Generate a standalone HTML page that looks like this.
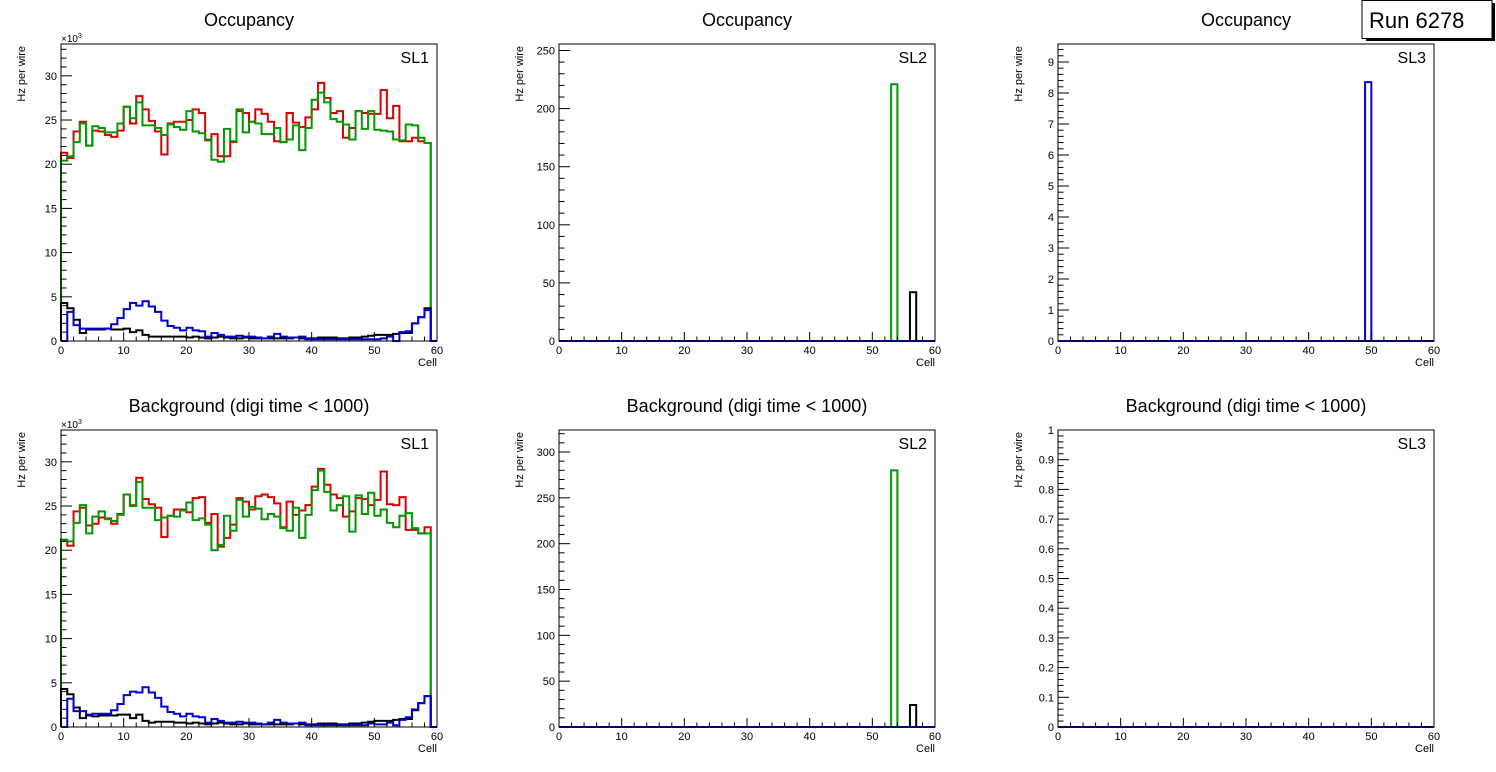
<!DOCTYPE html>
<html><head><meta charset="utf-8"><style>
body{margin:0;background:#fff;}
svg{display:block;font-family:"Liberation Sans",sans-serif;}
</style></head><body>
<svg id="c" width="1496" height="772"></svg>
<script>
const cells = 60;
const occSL1Red = [21.3,20.7,23.7,24.8,22.1,23.8,23.7,23.3,23.1,23.8,26.5,24.6,27.7,26.2,24.9,23.7,21.1,24.6,24.8,24.8,25.0,26.2,25.8,22.7,23.4,20.9,20.9,22.5,26.0,25.8,24.8,26.2,25.7,24.8,22.6,22.5,25.8,24.7,24.2,25.3,26.2,29.2,27.5,25.8,26.0,23.0,24.1,26.0,25.8,25.7,25.7,28.4,25.2,26.6,22.6,22.6,23.0,22.6,22.4,0];
const occSL1Green = [20.4,20.9,22.5,24.6,22.1,24.3,24.1,23.6,23.6,24.6,26.5,25.2,27.0,24.4,24.4,24.1,23.3,24.5,24.2,23.9,26.0,23.7,23.5,22.8,20.5,20.3,24.0,22.6,26.2,23.6,24.8,24.6,23.4,23.4,24.1,22.5,22.8,24.4,21.6,24.1,27.3,28.1,27.0,25.1,24.8,24.5,22.8,26.0,24.0,26.0,23.9,23.8,23.7,22.8,22.7,24.5,24.4,23.0,22.4,0];
const occSL1Blue = [0,3.3,1.8,1.4,1.4,1.4,1.4,1.4,1.9,2.6,3.6,4.3,4.0,4.5,3.9,3.3,2.3,1.7,1.5,1.2,1.5,1.2,1.1,0.5,0.9,0.7,0.5,0.5,0.6,0.5,0.5,0.4,0.3,0.5,0.8,0.5,0.4,0.4,0.5,0.2,0.2,0.2,0.2,0.2,0.2,0.2,0.2,0.2,0.2,0.2,0.2,0.3,0.5,0,1.0,1.1,2.0,2.7,3.5,0];
const occSL1Black = [4.3,3.7,2.4,0.9,1.3,1.3,1.3,1.4,1.3,1.3,1.4,1.0,1.2,0.7,0.5,0.5,0.5,0.5,0.5,0.5,0.4,0.5,0.4,0.3,0.4,0.5,0.4,0.3,0.3,0.4,0.3,0.3,0.3,0.3,0.3,0.3,0.3,0.4,0.3,0.3,0.3,0.4,0.4,0.4,0.3,0.3,0.4,0.4,0.5,0.6,0.7,0.7,0.7,0.8,0.9,0.9,2.0,2.7,3.7,0];
const bkgSL1Red = [21.1,20.5,24.4,24.8,22.8,23.0,23.7,23.6,23.0,24.1,26.3,25.1,28.2,25.8,25.2,24.8,21.5,23.9,24.6,24.6,24.3,25.9,26.0,23.1,24.1,20.4,21.4,22.9,25.9,25.5,24.6,26.1,26.3,26.0,25.3,22.6,25.5,24.0,24.5,25.1,27.2,29.2,27.4,26.3,25.9,23.8,24.4,25.9,25.8,25.1,25.7,28.9,25.2,25.1,26.0,22.3,22.3,21.9,22.6,0];
const bkgSL1Green = [21.2,21.0,23.1,25.1,21.9,23.8,24.4,23.5,23.3,24.0,26.3,25.0,27.7,24.8,24.8,23.4,23.7,23.9,23.8,24.5,25.4,23.4,23.6,22.9,20.0,20.6,23.9,22.2,25.7,23.8,24.9,24.7,23.5,24.1,23.8,22.5,22.2,24.8,21.4,24.0,26.8,29.0,26.6,24.5,25.1,26.1,22.1,26.2,24.1,26.5,23.9,24.6,23.1,22.6,23.9,24.2,22.5,21.9,21.9,0];
const bkgSL1Blue = [0,3.2,1.8,1.8,1.4,1.5,1.5,1.5,1.9,2.6,3.6,4.0,3.9,4.5,3.9,3.3,2.3,1.7,1.5,1.2,1.5,1.2,1.1,0.5,0.9,0.7,0.5,0.5,0.6,0.5,0.5,0.4,0.3,0.5,0.8,0.5,0.4,0.4,0.5,0.2,0.2,0.2,0.2,0.2,0.2,0.2,0.2,0.2,0.2,0.4,0.3,0.3,0.5,0.2,0.8,1.1,2.0,2.7,3.5,0];
const bkgSL1Black = [4.3,3.7,2.2,1.0,1.3,1.2,1.3,1.3,1.3,1.4,1.4,1.0,1.4,0.7,0.5,0.6,0.6,0.6,0.5,0.5,0.4,0.5,0.4,0.3,0.4,0.5,0.4,0.3,0.3,0.4,0.3,0.3,0.3,0.3,0.3,0.3,0.3,0.4,0.3,0.3,0.3,0.4,0.4,0.4,0.3,0.3,0.4,0.4,0.5,0.6,0.7,0.7,0.7,0.8,0.9,0.9,1.9,2.7,3.5,0];
const occSL2Green = new Array(60).fill(0); occSL2Green[53] = 221;
const occSL2Black = new Array(60).fill(0); occSL2Black[56] = 42;
const bkgSL2Green = new Array(60).fill(0); bkgSL2Green[53] = 280;
const bkgSL2Black = new Array(60).fill(0); bkgSL2Black[56] = 24;
const occSL3Blue = new Array(60).fill(0); occSL3Blue[49] = 8.35;
const zeros = new Array(60).fill(0);
const xTicks = [0,10,20,30,40,50,60];

const C = {red:'#dd0000', green:'#009900', blue:'#0000dd', black:'#000000'};
const pads = [
 {name:'occ-sl1',title:'Occupancy',sl:'SL1',fx:61,fy:44,ymax:33.6,major:5,minor:1,lab:[0,5,10,15,20,25,30],exp:true,
  series:[['red',occSL1Red],['green',occSL1Green],['black',occSL1Black],['blue',occSL1Blue]]},
 {name:'occ-sl2',title:'Occupancy',sl:'SL2',fx:559,fy:44,ymax:255.6,major:50,minor:10,lab:[0,50,100,150,200,250],
  series:[['red',zeros],['green',occSL2Green],['black',occSL2Black],['blue',zeros]]},
 {name:'occ-sl3',title:'Occupancy',sl:'SL3',fx:1058,fy:44,ymax:9.58,major:1,minor:0.2,lab:[0,1,2,3,4,5,6,7,8,9],
  series:[['red',zeros],['green',zeros],['black',zeros],['blue',occSL3Blue]]},
 {name:'bkg-sl1',title:'Background (digi time < 1000)',sl:'SL1',fx:61,fy:430,ymax:33.6,major:5,minor:1,lab:[0,5,10,15,20,25,30],exp:true,
  series:[['red',bkgSL1Red],['green',bkgSL1Green],['black',bkgSL1Black],['blue',bkgSL1Blue]]},
 {name:'bkg-sl2',title:'Background (digi time < 1000)',sl:'SL2',fx:559,fy:430,ymax:324,major:50,minor:10,lab:[0,50,100,150,200,250,300],
  series:[['red',zeros],['green',bkgSL2Green],['black',bkgSL2Black],['blue',zeros]]},
 {name:'bkg-sl3',title:'Background (digi time < 1000)',sl:'SL3',fx:1058,fy:430,ymax:1.0,major:0.1,minor:0.02,lab:[0,0.1,0.2,0.3,0.4,0.5,0.6,0.7,0.8,0.9,1],
  series:[['red',zeros],['green',zeros],['black',zeros],['blue',zeros]]}
];
const NS='http://www.w3.org/2000/svg';
const svg=document.getElementById('c');
function mk(tag,attrs,parent,text){const e=document.createElementNS(NS,tag);for(const k in attrs)e.setAttribute(k,attrs[k]);if(text!==undefined)e.textContent=text;(parent||svg).appendChild(e);return e;}
const W=376,H=297;
pads.forEach(p=>{
 const g=mk('g',{});
 
 
 const xs=v=>p.fx+v/cells*W;
 const ys=v=>p.fy+H-v/p.ymax*H;
 const t=mk('text',{x:p.fx+W/2,y:p.fy-18,'font-size':18,'text-anchor':'middle'},g,p.title);
 
 
 // series
 p.series.forEach(([col,arr])=>{
  let d='M'+xs(0)+','+ys(0);
  for(let i=0;i<cells;i++){d+=' L'+xs(i)+','+ys(arr[i])+' L'+xs(i+1)+','+ys(arr[i]);}
  d+=' L'+xs(cells)+','+ys(0);
  const path=mk('path',{d:d,fill:'none',stroke:C[col],'stroke-width':2},g);
  
  
 });
 const fr=mk('rect',{x:p.fx,y:p.fy,width:W,height:H,fill:'none',stroke:'#000','stroke-width':1},g);
 
 
 // x ticks
 for(let v=0;v<=cells;v+=2){const big=v%10===0;
  mk('line',{x1:xs(v),x2:xs(v),y1:p.fy+H,y2:p.fy+H-(big?9:4.5),stroke:'#000','stroke-width':1},g);}
 xTicks.forEach(v=>{const l=mk('text',{x:xs(v),y:p.fy+H+13,'font-size':11,'text-anchor':'middle'},g,String(v));
  
  });
 const xt=mk('text',{x:p.fx+W,y:p.fy+H+25,'font-size':11,'text-anchor':'end'},g,'Cell');
 
 
 // y ticks
 const n=Math.round(p.ymax/p.minor);
 const r=Math.round(p.major/p.minor);
 for(let k=0;k<=n;k++){const v=k*p.minor;if(v>p.ymax+1e-9)break;const big=k%r===0;
  mk('line',{x1:p.fx,x2:p.fx+(big?11:5.5),y1:ys(v),y2:ys(v),stroke:'#000','stroke-width':1},g);}
 p.lab.forEach(v=>{const l=mk('text',{x:p.fx-4,y:ys(v)+4,'font-size':11,'text-anchor':'end'},g,String(v));
  
  });
 const yt=mk('text',{x:0,y:0,'font-size':11,'text-anchor':'end',transform:'translate('+(p.fx-36)+','+(p.fy+2)+') rotate(-90)'},g,'Hz per wire');
 
 
 if(p.exp){const e=mk('text',{x:p.fx,y:p.fy-2,'font-size':10},g,'×10');
  mk('tspan',{dy:-4,'font-size':7},e,'3');
  
  }
 const sl=mk('text',{x:p.fx+W-8,y:p.fy+19,'font-size':16,'text-anchor':'end'},g,p.sl);
 
 
});
// run box
const rb=mk('g',{});


mk('rect',{x:1366,y:3,width:129,height:38,fill:'#000'},rb);
mk('rect',{x:1362,y:0.5,width:130,height:38,fill:'#fff',stroke:'#000','stroke-width':1},rb);
mk('text',{x:1369,y:28,'font-size':22},rb,'Run 6278');
</script>
</body></html>
